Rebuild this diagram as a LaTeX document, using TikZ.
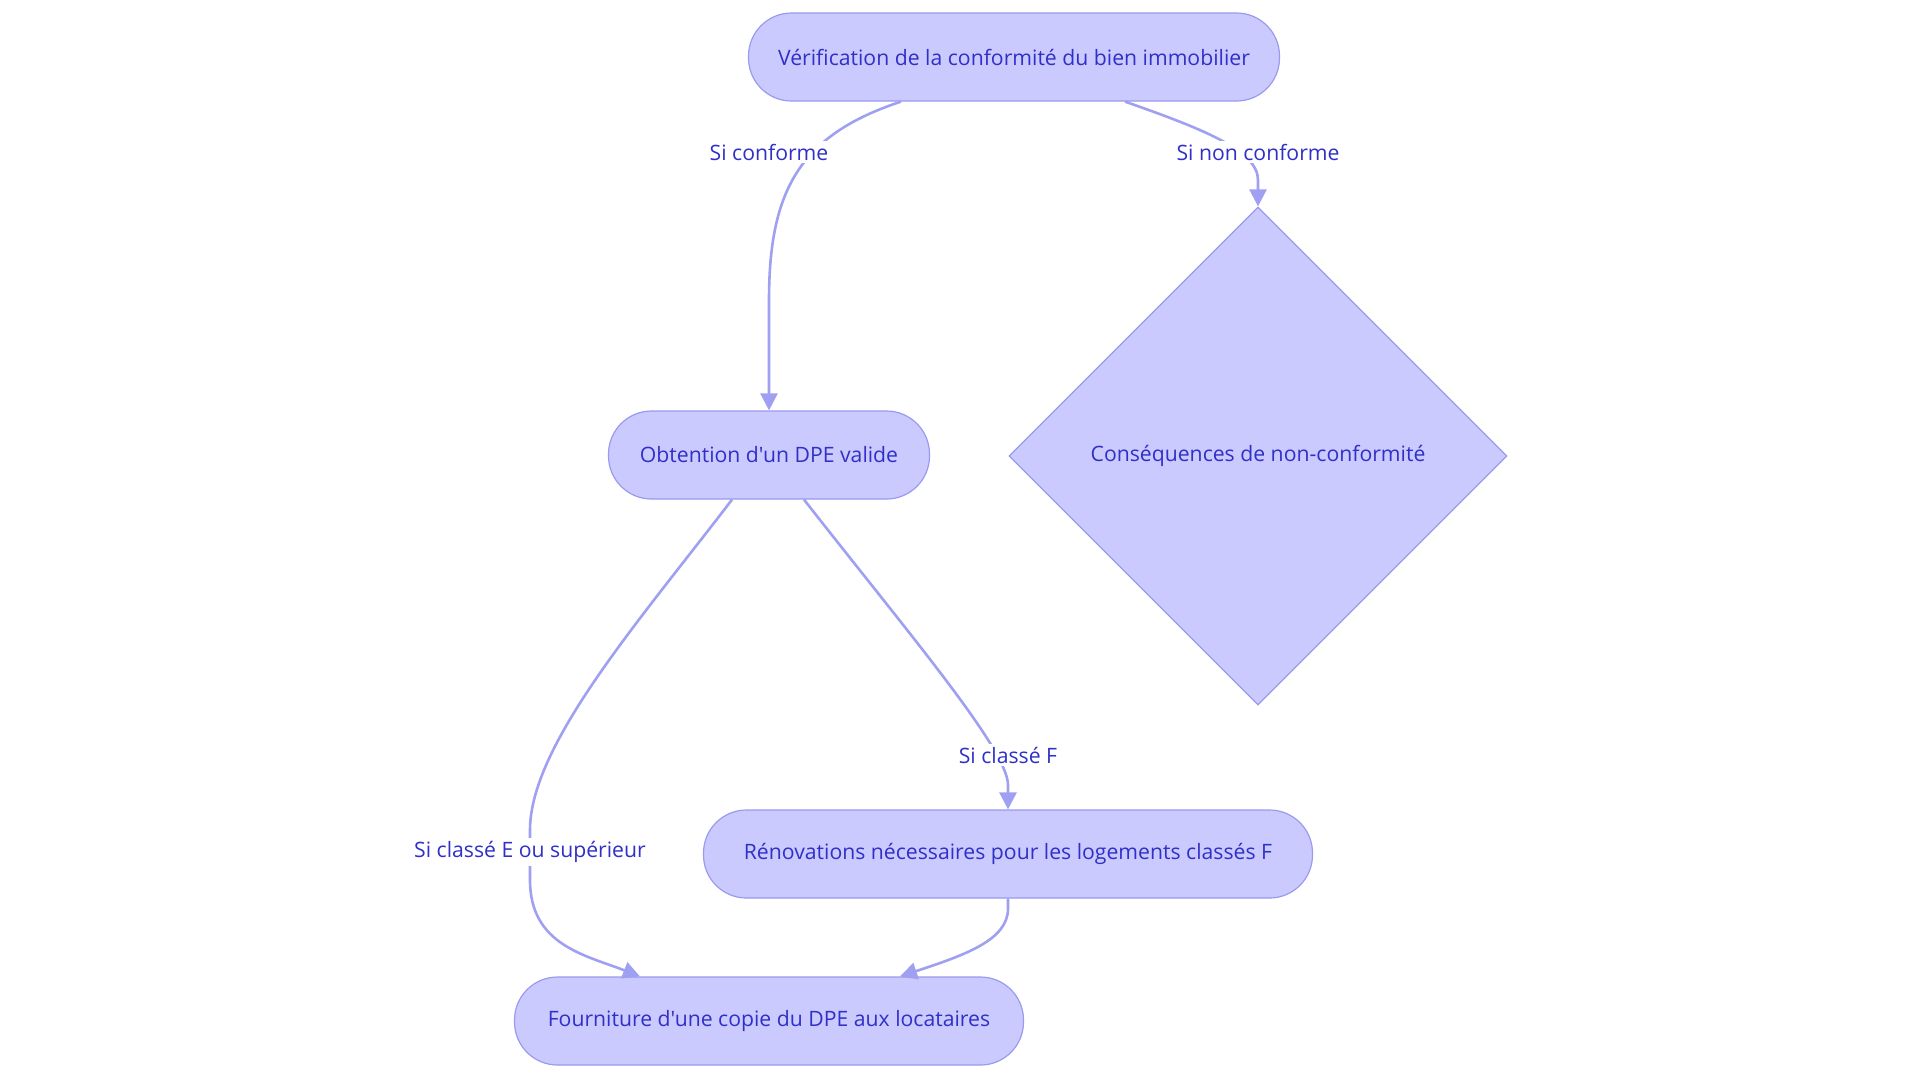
\documentclass[tikz,border=0pt]{standalone}
\usepackage{fontspec}
\setmainfont{Open Sans}[Ligatures=TeXOff]
\usetikzlibrary{shapes.geometric,arrows.meta,calc}
\definecolor{nodefill}{HTML}{CACAFF}
\definecolor{nodeline}{HTML}{9A9AEE}
\definecolor{edgecol}{HTML}{A0A0F3}
\definecolor{txt}{HTML}{3030C8}
\begin{document}
\begin{tikzpicture}[x=0.5pt,y=-0.5pt,
  box/.style={draw=nodeline,fill=nodefill,line width=0.6pt,rounded corners=21.5pt,
    minimum height=44pt,text=txt,font=\fontsize{10.6}{12}\selectfont,inner sep=0pt},
  dia/.style={diamond,draw=nodeline,fill=nodefill,line width=0.6pt,minimum width=249pt,
    minimum height=249pt,inner sep=0pt,text=txt,font=\fontsize{10.6}{12}\selectfont},
  lbl/.style={fill=white,text=txt,font=\fontsize{10.6}{12}\selectfont,inner sep=1.5pt},
  edge/.style={draw=edgecol,line width=1.3pt,-{Triangle[width=8.5pt,length=8.5pt]}}]
\useasboundingbox (0,0) rectangle (1920,1083);
\node[box,minimum width=265.5pt] (top) at (1014,57) {Vérification de la conformité du bien immobilier};
\node[box,minimum width=160.5pt] (obt) at (769,455) {Obtention d'un DPE valide};
\node[dia] (dia) at (1258,456) {Conséquences de non-conformité};
\node[box,minimum width=304.5pt] (ren) at (1008,854) {Rénovations nécessaires pour les logements classés F};
\node[box,minimum width=254.5pt] (fou) at (769,1021) {Fourniture d'une copie du DPE aux locataires};
% edges
\draw[edge] ($(top.south)+(-113,0)$) .. controls (800,135) and (769,190) .. (769,300) -- (obt.north);
\draw[edge] ($(top.south)+(111,0)$) .. controls (1200,128) and (1258,150) .. (1258,180) -- (dia.north);
\draw[edge] ($(obt.south)+(-37,0)$) .. controls (640,620) and (530,745) .. (530,830) -- (530,880) .. controls (530,945) and (585,955) .. ($(fou.north)+(-129,0)$);
\draw[edge] ($(obt.south)+(35,0)$) .. controls (910,635) and (1008,750) .. (1008,785) -- (ren.north);
\draw[edge] (ren.south) -- ($(ren.south)+(0,10)$) .. controls (1008,940) and (965,955) .. ($(fou.north)+(131,0)$);
% labels
\node[lbl] (l1) at (769,152) {Si conforme};
\node[lbl] (l2) at (1258,152) {Si non conforme};
\node[lbl] (l3) at (1008,755) {Si classé F};
\node[lbl] (l4) at (530,852) {Si classé E ou supérieur};
\end{tikzpicture}
\end{document}
